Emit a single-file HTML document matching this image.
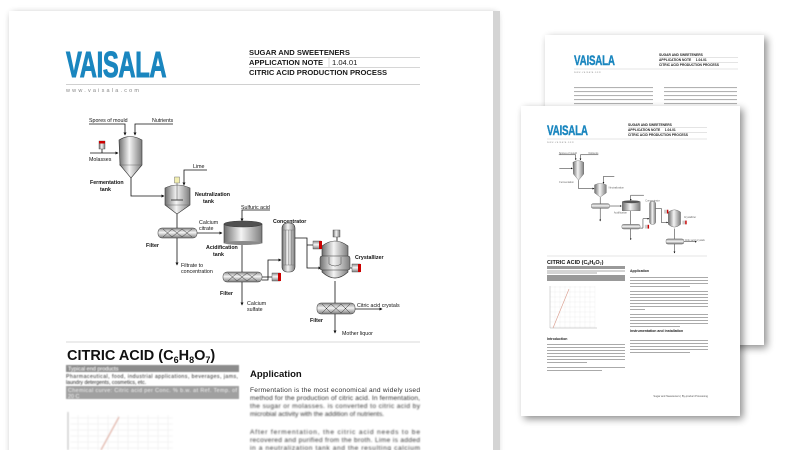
<!DOCTYPE html>
<html><head><meta charset="utf-8"><style>
html,body{margin:0;padding:0;background:#fff;width:800px;height:450px;overflow:hidden}
svg{display:block}
text{font-family:"Liberation Sans",sans-serif}
</style></head><body>
<svg width="800" height="450" viewBox="0 0 800 450" xmlns="http://www.w3.org/2000/svg">
<defs>
<linearGradient id="m" x1="0" x2="1" y1="0" y2="0"><stop offset="0" stop-color="#6f6f6f"/><stop offset=".45" stop-color="#f4f4f4"/><stop offset="1" stop-color="#7d7d7d"/></linearGradient>
<linearGradient id="fl" x1="0" x2="0" y1="0" y2="1"><stop offset="0" stop-color="#8a8a8a"/><stop offset=".45" stop-color="#f4f4f4"/><stop offset="1" stop-color="#7d7d7d"/></linearGradient>
<filter id="sh" x="-10%" y="-10%" width="130%" height="130%"><feGaussianBlur in="SourceAlpha" stdDeviation="4"/><feOffset dx="3" dy="3"/><feComponentTransfer><feFuncA type="linear" slope=".45"/></feComponentTransfer><feMerge><feMergeNode/><feMergeNode in="SourceGraphic"/></feMerge></filter>
<filter id="bl"><feGaussianBlur stdDeviation="0.9"/></filter>
<filter id="bl2"><feGaussianBlur stdDeviation="0.5"/></filter>
<marker id="a" viewBox="0 0 6 6" refX="5" refY="3" markerWidth="4" markerHeight="4" orient="auto"><path d="M0,0L6,3L0,6Z" fill="#111"/></marker>
</defs>

<!-- ===== BACK PAGE ===== -->
<rect x="545" y="35" width="219" height="310" fill="#fff" filter="url(#sh)"/>
<text x="574" y="65" font-size="14" font-weight="bold" fill="#1a86bf" stroke="#1a86bf" stroke-width=".4" transform="translate(574,0) scale(.7,1) translate(-574,0)" letter-spacing="-.3">VAISALA</text>
<g font-size="3.3" font-weight="bold" fill="#222">
<text x="659" y="56">SUGAR AND SWEETENERS</text>
<text x="659" y="61">APPLICATION NOTE &#160;&#160;&#160; 1.04.01</text>
<text x="659" y="66">CITRIC ACID PRODUCTION PROCESS</text></g>
<line x1="659" y1="57.5" x2="738" y2="57.5" stroke="#bbb" stroke-width=".4"/>
<line x1="659" y1="62.5" x2="738" y2="62.5" stroke="#bbb" stroke-width=".4"/>
<line x1="574" y1="69" x2="738" y2="69" stroke="#ccc" stroke-width=".6"/>
<text x="574" y="73" font-size="2.4" fill="#999" letter-spacing=".6">www.vaisala.com</text>
<g fill="#999" opacity=".75">
<rect x="574" y="87" width="79" height="1.1"/><rect x="574" y="91" width="79" height="1.1"/><rect x="574" y="95" width="79" height="1.1"/><rect x="574" y="99" width="79" height="1.1"/><rect x="574" y="103" width="79" height="1.1"/>
<rect x="664" y="87" width="73" height="1.1"/><rect x="664" y="91" width="73" height="1.1"/><rect x="664" y="95" width="73" height="1.1"/><rect x="664" y="99" width="73" height="1.1"/><rect x="664" y="103" width="73" height="1.1"/>
</g>

<!-- ===== FRONT SMALL PAGE ===== -->
<rect x="521" y="106" width="219" height="310" fill="#fff" filter="url(#sh)"/>
<text x="547" y="135" font-size="14" font-weight="bold" fill="#1a86bf" stroke="#1a86bf" stroke-width=".4" transform="translate(547,0) scale(.7,1) translate(-547,0)" letter-spacing="-.3">VAISALA</text>
<g font-size="3.3" font-weight="bold" fill="#222">
<text x="628" y="126">SUGAR AND SWEETENERS</text>
<text x="628" y="131">APPLICATION NOTE &#160;&#160;&#160; 1.04.01</text>
<text x="628" y="136">CITRIC ACID PRODUCTION PROCESS</text></g>
<line x1="628" y1="127.5" x2="707" y2="127.5" stroke="#bbb" stroke-width=".4"/>
<line x1="628" y1="132.5" x2="707" y2="132.5" stroke="#bbb" stroke-width=".4"/>
<line x1="547" y1="139" x2="707" y2="139" stroke="#ccc" stroke-width=".6"/>
<text x="547" y="143" font-size="2.4" fill="#999" letter-spacing=".6">www.vaisala.com</text>
<line x1="547" y1="256" x2="707" y2="256" stroke="#ccc" stroke-width=".5"/>
<text x="547" y="264" font-size="5.5" font-weight="bold" fill="#111">CITRIC ACID (C<tspan font-size="3.5" dy="1">6</tspan><tspan dy="-1">H</tspan><tspan font-size="3.5" dy="1">8</tspan><tspan dy="-1">O</tspan><tspan font-size="3.5" dy="1">7</tspan><tspan dy="-1">)</tspan></text>
<rect x="547" y="266" width="78" height="3" fill="#999"/>
<rect x="547" y="270.5" width="78" height="1" fill="#aaa"/><rect x="547" y="272.5" width="50" height="1" fill="#aaa"/>
<rect x="547" y="275" width="78" height="6" fill="#999"/>
<g stroke="#e6e6e6" stroke-width=".3"><path d="M550,287H595M550,292H595M550,297H595M550,302H595M550,307H595M550,312H595M550,317H595M550,322H595M550,327H595M555,286V328M560,286V328M565,286V328M570,286V328M575,286V328M580,286V328M585,286V328M590,286V328M595,286V328"/></g>
<line x1="550" y1="286" x2="550" y2="328" stroke="#999" stroke-width=".4"/><line x1="550" y1="328" x2="597" y2="328" stroke="#999" stroke-width=".4"/>
<line x1="553" y1="328" x2="569" y2="289" stroke="#d99a8a" stroke-width=".6"/>
<text x="547" y="340" font-size="3.5" font-weight="bold" fill="#222">Introduction</text>
<g fill="#aaa">
<rect x="547" y="344" width="78" height="1"/><rect x="547" y="347" width="78" height="1"/><rect x="547" y="350" width="78" height="1"/><rect x="547" y="353" width="78" height="1"/><rect x="547" y="356" width="78" height="1"/><rect x="547" y="359" width="78" height="1"/><rect x="547" y="362" width="40" height="1"/>
<rect x="547" y="367" width="78" height="1"/><rect x="547" y="370" width="55" height="1"/>
</g>
<text x="630" y="272" font-size="3.5" font-weight="bold" fill="#222">Application</text>
<g fill="#aaa">
<rect x="630" y="277" width="78" height="1"/><rect x="630" y="280" width="78" height="1"/><rect x="630" y="283" width="78" height="1"/><rect x="630" y="286" width="60" height="1"/>
<rect x="630" y="291" width="78" height="1"/><rect x="630" y="294" width="78" height="1"/><rect x="630" y="297" width="78" height="1"/><rect x="630" y="300" width="78" height="1"/><rect x="630" y="303" width="78" height="1"/><rect x="630" y="306" width="78" height="1"/><rect x="630" y="309" width="15" height="1"/>
<rect x="630" y="314" width="78" height="1"/><rect x="630" y="317" width="78" height="1"/><rect x="630" y="320" width="78" height="1"/><rect x="630" y="323" width="78" height="1"/><rect x="630" y="326" width="50" height="1"/>
<rect x="630" y="340" width="78" height="1"/><rect x="630" y="343" width="78" height="1"/><rect x="630" y="346" width="78" height="1"/><rect x="630" y="349" width="78" height="1"/><rect x="630" y="352" width="60" height="1"/>
</g>
<text x="630" y="332" font-size="3.5" font-weight="bold" fill="#222">Instrumentation and installation</text>
<text x="708" y="397" font-size="2.6" fill="#555" text-anchor="end">Sugar and Sweeteners | By-product Processing</text>

<!-- small diagram copy -->
<g transform="translate(517,96.5) scale(.47)">
<g stroke="#111" stroke-width="1" fill="none">
<path d="M89,124H125V135" marker-end="url(#a)"/><path d="M173,124H135V135" marker-end="url(#a)"/>
<path d="M90,153H118" marker-end="url(#a)"/><path d="M131,178V196H164" marker-end="url(#a)"/>
<path d="M207,170H184V185" marker-end="url(#a)"/><path d="M177,214V228"/><path d="M177,238V265" marker-end="url(#a)"/>
<path d="M197,233H222" marker-end="url(#a)"/><path d="M270,210H242V221" marker-end="url(#a)"/><path d="M242,243V272"/>
<path d="M242,282V305" marker-end="url(#a)"/><path d="M262,280H268V260H281" marker-end="url(#a)"/>
<path d="M295,238H307V268H321" marker-end="url(#a)"/><path d="M335,281V303"/><path d="M355,309H382" marker-end="url(#a)"/><path d="M335,314V333" marker-end="url(#a)"/>
</g>
<path d="M119,140Q130,133 142,140V165L131,178L120,165Z" fill="url(#m)" stroke="#333" stroke-width=".6"/>
<path d="M165,188Q177,182 190,188V205L177,214L165,205Z" fill="url(#m)" stroke="#333" stroke-width=".6"/>
<rect x="224" y="224" width="38" height="19" fill="url(#m)" stroke="#333" stroke-width=".6"/><ellipse cx="243" cy="224" rx="19" ry="3" fill="#555"/>
<rect x="158" y="228" width="39" height="10" rx="4" fill="url(#fl)" stroke="#333" stroke-width=".6"/>
<rect x="223" y="272" width="39" height="10" rx="4" fill="url(#fl)" stroke="#333" stroke-width=".6"/>
<rect x="317" y="303" width="38" height="11" rx="4" fill="url(#fl)" stroke="#333" stroke-width=".6"/>
<rect x="282" y="223" width="13" height="49" rx="5" fill="url(#m)" stroke="#333" stroke-width=".6"/>
<path d="M322,246Q335,236 348,246V272Q335,284 322,272Z" fill="url(#m)" stroke="#333" stroke-width=".6"/>
<rect x="272" y="273" width="8" height="8" fill="#ccc"/><rect x="278" y="273" width="3" height="8" fill="#c00"/>
<rect x="313" y="241" width="8" height="8" fill="#ccc"/><rect x="319" y="241" width="3" height="8" fill="#c00"/>
<rect x="352" y="264" width="8" height="8" fill="#ccc"/><rect x="358" y="264" width="3" height="8" fill="#c00"/>
<g font-size="5.3" fill="#666"><text x="89" y="122">Spores of mould</text><text x="152" y="122">Nutrients</text><text x="90" y="184">Fermentation</text><text x="195" y="196">Neutralization</text><text x="206" y="249">Acidification</text><text x="273" y="223">Concentrator</text><text x="355" y="259">Crystallizer</text><text x="357" y="307">Citric acid crystals</text></g>
</g>

<!-- ===== MAIN PAGE ===== -->
<rect x="9" y="11" width="484" height="460" fill="#fff" filter="url(#sh)"/>
<rect x="493" y="11" width="7" height="439" fill="#d4d4d4"/>
<text x="66" y="77" font-size="36" font-weight="bold" fill="#1a86bf" stroke="#1a86bf" stroke-width="1" transform="translate(66,0) scale(.66,1) translate(-66,0)" letter-spacing="-.5">VAISALA</text>
<g font-size="7.6" font-weight="bold" fill="#1a1a1a">
<text x="249" y="55">SUGAR AND SWEETENERS</text>
<text x="249" y="65">APPLICATION NOTE</text><text x="332" y="65" font-weight="normal">1.04.01</text>
<text x="249" y="75">CITRIC ACID PRODUCTION PROCESS</text></g>
<line x1="249" y1="57.5" x2="420" y2="57.5" stroke="#c8c8c8" stroke-width=".7"/>
<line x1="249" y1="67.5" x2="420" y2="67.5" stroke="#c8c8c8" stroke-width=".7"/>
<line x1="329" y1="58" x2="329" y2="67" stroke="#c8c8c8" stroke-width=".7"/>
<line x1="66" y1="84.5" x2="420" y2="84.5" stroke="#d0d0d0" stroke-width="1"/>
<text x="66" y="92" font-size="5.5" fill="#888" letter-spacing="2.2">www.vaisala.com</text>

<!-- diagram -->
<g stroke="#111" stroke-width=".8" fill="none">
<path d="M89,124H125V135" marker-end="url(#a)"/><path d="M173,124H135V135" marker-end="url(#a)"/>
<path d="M90,153H118" marker-end="url(#a)"/><path d="M131,178V196H164" marker-end="url(#a)"/>
<path d="M207,170H184V185" marker-end="url(#a)"/><path d="M177,214V228"/><path d="M177,238V265" marker-end="url(#a)"/>
<path d="M197,233H222" marker-end="url(#a)"/><path d="M270,210H242V221" marker-end="url(#a)"/><path d="M242,243V272"/>
<path d="M242,282V305" marker-end="url(#a)"/><path d="M262,280H268V260H281" marker-end="url(#a)"/>
<path d="M295,238H307V268H321" marker-end="url(#a)"/><path d="M335,281V303"/><path d="M355,309H382" marker-end="url(#a)"/><path d="M335,314V333" marker-end="url(#a)"/>
<path d="M102,149V153M307,245H313M262,277H272M348,268H352M337,237V241"/>
</g>
<path d="M119,140Q130,133 142,140V165L131,178L120,165Z" fill="url(#m)" stroke="#333" stroke-width=".6"/>
<line x1="119" y1="165" x2="142" y2="165" stroke="#555" stroke-width=".4"/>
<rect x="99" y="141" width="6" height="8" fill="url(#m)" stroke="#444" stroke-width=".4"/><rect x="99" y="141" width="6" height="2.5" fill="#c00"/>
<path d="M165,188Q177,182 190,188V205L177,214L165,205Z" fill="url(#m)" stroke="#333" stroke-width=".6"/>
<line x1="165" y1="205" x2="190" y2="205" stroke="#555" stroke-width=".4"/>
<line x1="177" y1="182" x2="177" y2="200" stroke="#444" stroke-width=".5"/><path d="M171,200H183" stroke="#444" stroke-width="1"/>
<rect x="174.5" y="177" width="5" height="6" fill="#f2eeb0" stroke="#555" stroke-width=".4"/>
<rect x="224" y="224" width="38" height="19" fill="url(#m)" stroke="#333" stroke-width=".6"/>
<ellipse cx="243" cy="243" rx="19" ry="2" fill="#8a8a8a"/>
<ellipse cx="243" cy="224" rx="19" ry="3" fill="#505050" stroke="#333" stroke-width=".5"/>
<g stroke="#333" stroke-width=".5">
<rect x="158" y="228" width="39" height="10" rx="4" fill="url(#fl)"/>
<path d="M163,229L172,237M172,229L163,237M172,229L182,237M182,229L172,237M182,229L192,237M192,229L182,237" fill="none"/>
<rect x="223" y="272" width="39" height="10" rx="4" fill="url(#fl)"/>
<path d="M228,273L237,281M237,273L228,281M237,273L247,281M247,273L237,281M247,273L257,281M257,273L247,281" fill="none"/>
<rect x="317" y="303" width="38" height="11" rx="4" fill="url(#fl)"/>
<path d="M322,304L331,313M331,304L322,313M331,304L341,313M341,304L331,313M341,304L350,313M350,304L341,313" fill="none"/>
</g>
<rect x="282" y="223" width="13" height="49" rx="5" fill="url(#m)" stroke="#333" stroke-width=".6"/>
<path d="M282,230H295M282,265H295M285.5,230V265M288.5,230V265M291.5,230V265" stroke="#666" stroke-width=".4"/>
<path d="M322,246Q335,236 348,246V272Q335,284 322,272Z" fill="url(#m)" stroke="#333" stroke-width=".6"/>
<rect x="320" y="256" width="30" height="14" rx="2" fill="url(#m)" stroke="#333" stroke-width=".5"/>
<path d="M329,257V264Q335,268 341,264V257" fill="none" stroke="#444" stroke-width=".5"/>
<rect x="333" y="230" width="7" height="7" fill="url(#m)" stroke="#444" stroke-width=".4"/>
<rect x="272" y="273" width="8" height="8" fill="url(#fl)" stroke="#444" stroke-width=".4"/><rect x="278" y="273" width="3" height="8" fill="#c00"/>
<rect x="313" y="241" width="8" height="8" fill="url(#fl)" stroke="#444" stroke-width=".4"/><rect x="319" y="241" width="3" height="8" fill="#c00"/>
<rect x="352" y="264" width="8" height="8" fill="url(#fl)" stroke="#444" stroke-width=".4"/><rect x="358" y="264" width="3" height="8" fill="#c00"/>
<g font-size="5.3" fill="#111">
<text x="89" y="122">Spores of mould</text><text x="152" y="122">Nutrients</text>
<text x="89" y="161">Molasses</text><text x="193" y="168">Lime</text>
<text x="241" y="209">Sulfuric acid</text>
<text x="199" y="224">Calcium</text><text x="199" y="230">citrate</text>
<text x="181" y="267">Filtrate to</text><text x="181" y="273">concentration</text>
<text x="247" y="305">Calcium</text><text x="247" y="311">sulfate</text>
<text x="357" y="307">Citric acid crystals</text><text x="342" y="335">Mother liquor</text>
</g>
<g font-size="5.3" font-weight="bold" fill="#111">
<text x="90" y="184">Fermentation</text><text x="100" y="191">tank</text>
<text x="195" y="196">Neutralization</text><text x="203" y="203">tank</text>
<text x="146" y="247">Filter</text>
<text x="206" y="249">Acidification</text><text x="213" y="256">tank</text>
<text x="273" y="223">Concentrator</text>
<text x="355" y="259">Crystallizer</text>
<text x="220" y="295">Filter</text><text x="310" y="322">Filter</text>
</g>

<line x1="66" y1="342" x2="420" y2="342" stroke="#ccc" stroke-width=".8"/>
<text x="67" y="360" font-size="14.5" font-weight="bold" fill="#111">CITRIC ACID (C<tspan font-size="9" dy="3">6</tspan><tspan dy="-3">H</tspan><tspan font-size="9" dy="3">8</tspan><tspan dy="-3">O</tspan><tspan font-size="9" dy="3">7</tspan><tspan dy="-3">)</tspan></text>
<g filter="url(#bl2)">
<rect x="66" y="365" width="173" height="7" fill="#8c8c8c"/>
<text x="68" y="370.5" font-size="5.5" fill="#fff">Typical end products</text>
<text x="66" y="378" font-size="5.2" fill="#222" textLength="172">Pharmaceutical, food, industrial applications, beverages, jams,</text>
<text x="66" y="384" font-size="5.2" fill="#222">laundry detergents, cosmetics, etc.</text>
<rect x="66" y="386" width="173" height="13" fill="#a0a0a0"/>
<text x="68" y="392" font-size="5.4" fill="#eee" textLength="169">Chemical curve: Citric acid per Conc. % b.w. at Ref. Temp. of</text>
<text x="68" y="398" font-size="5.4" fill="#eee">20 C</text>
</g>
<g filter="url(#bl)">
<path d="M70,418H173M70,424H173M70,430H173M70,436H173M70,442H173M70,448H173M78,415V450M88,415V450M98,415V450M108,415V450M118,415V450M128,415V450M138,415V450M148,415V450M158,415V450M168,415V450" stroke="#ebebeb" stroke-width=".6"/>
<line x1="68" y1="412" x2="68" y2="450" stroke="#aaa" stroke-width=".8"/>
<line x1="101" y1="450" x2="119" y2="417" stroke="#d9a090" stroke-width="1"/>
</g>
<text x="250" y="377" font-size="9.5" font-weight="bold" fill="#111">Application</text>
<g font-size="6.6" fill="#333">
<text x="250" y="392" textLength="170">Fermentation is the most economical and widely used</text>
<text x="250" y="400" textLength="170" filter="url(#bl2)">method for the production of citric acid. In fermentation,</text>
<g filter="url(#bl)">
<text x="250" y="408" textLength="170">the sugar or molasses. is converted to citric acid by</text>
<text x="250" y="416">microbial activity with the addition of nutrients.</text>
<text x="250" y="434" textLength="170">After fermentation, the citric acid needs to be</text>
<text x="250" y="442" textLength="170">recovered and purified from the broth. Lime is added</text>
<text x="250" y="450" textLength="170">in a neutralization tank and the resulting calcium</text>
</g></g>
</svg>
</body></html>
